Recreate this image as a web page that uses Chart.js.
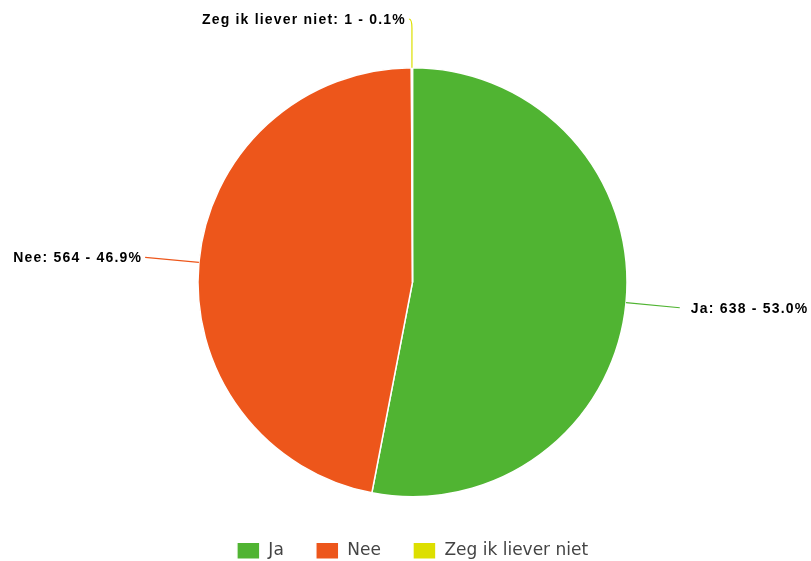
<!DOCTYPE html>
<html>
<head>
<meta charset="utf-8">
<script src="https://cdn.jsdelivr.net/npm/chart.js@4/dist/chart.umd.min.js"></script>
<style>
  html, body { margin: 0; padding: 0; background: #ffffff; }
  #wrap { width: 811px; height: 561px; position: relative; }
</style>
</head>
<body>
<div id="wrap"><canvas id="c" width="811" height="561"></canvas></div>
<script>
const categories = ["Ja", "Nee", "Zeg ik liever niet"];
const values = [638, 564, 1];
const colors = ["#50B432", "#ED561B", "#DDDF00"];

const total = values.reduce((a, b) => a + b, 0);

const pieLabels = {
  id: 'pieLabels',
  afterDatasetsDraw(chart) {
    const ctx = chart.ctx;
    const meta = chart.getDatasetMeta(0);
    ctx.save();
    ctx.font = 'bold 14px "Liberation Sans", Arial, sans-serif';
    if ('letterSpacing' in ctx) ctx.letterSpacing = '1.2px';
    ctx.textBaseline = 'middle';
    meta.data.forEach((arc, i) => {
      const p = arc.getProps(['x', 'y', 'startAngle', 'endAngle', 'outerRadius'], true);
      const mid = (p.startAngle + p.endAngle) / 2;
      const c = Math.cos(mid), s = Math.sin(mid);
      const ex = p.x + p.outerRadius * c, ey = p.y + p.outerRadius * s;
      let lx = p.x + (p.outerRadius + 54) * c;
      let ly = p.y + (p.outerRadius + 54) * s;
      ctx.strokeStyle = colors[i];
      ctx.lineWidth = 1.2;
      ctx.beginPath();
      ctx.moveTo(ex, ey);
      let clamped = false;
      if (ly < 20) {
        ly = 19; lx = ex - 3; clamped = true;
        ctx.lineTo(ex, ly + 9);
        ctx.quadraticCurveTo(ex, ly, lx, ly);
      } else {
        ctx.lineTo(lx, ly);
      }
      ctx.stroke();
      const pct = (values[i] / total * 100).toFixed(1);
      const txt = categories[i] + ': ' + values[i] + ' - ' + pct + '%';
      ctx.fillStyle = '#000000';
      if (c >= 0 && !clamped) {
        ctx.textAlign = 'left';
        ctx.fillText(txt, lx + 11, ly + 1);
      } else {
        ctx.textAlign = 'right';
        ctx.fillText(txt, lx - 3, ly + 1);
      }
    });
    ctx.restore();
  }
};

new Chart(document.getElementById('c'), {
  type: 'pie',
  data: {
    labels: categories,
    datasets: [{
      data: values,
      backgroundColor: colors,
      borderColor: '#ffffff',
      borderWidth: 1.5,
      radius: 214.5
    }]
  },
  options: {
    responsive: false,
    animation: false,
    layout: { padding: { top: 54.2, bottom: -8.2, left: 14, right: 0 } },
    plugins: {
      tooltip: { enabled: false },
      legend: {
        position: 'bottom',
        labels: {
          boxWidth: 23,
          boxHeight: 17,
          padding: 32,
          color: '#444444',
          font: { family: '"DejaVu Sans", sans-serif', size: 17 }
        }
      }
    }
  },
  plugins: [pieLabels]
});
</script>
</body>
</html>
